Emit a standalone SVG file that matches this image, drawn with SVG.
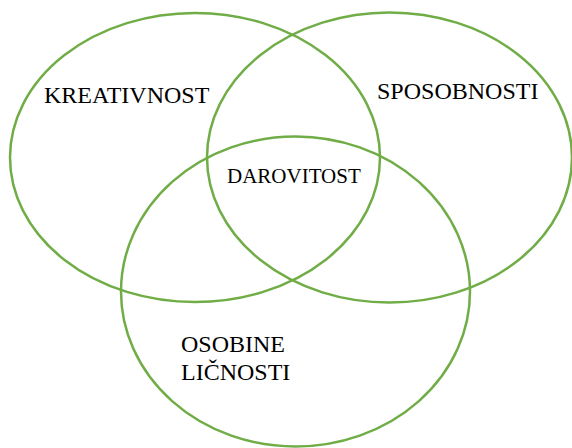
<svg xmlns="http://www.w3.org/2000/svg" width="572" height="448" viewBox="0 0 572 448">
<style>
.c{fill:none;stroke:#70AD47;stroke-width:2.5}
.t{font-family:"Times New Roman","Liberation Serif",Tinos,serif;font-size:24px;fill:#000}
.s{font-size:21px}
</style>
<rect width="572" height="448" fill="#fff"/>
<g id="kreativnost"><ellipse class="c" cx="195" cy="157.5" rx="185" ry="144.5"/><text class="t" x="44" y="103">KREATIVNOST</text></g>
<g id="sposobnosti"><ellipse class="c" cx="389.5" cy="157.5" rx="182.5" ry="145"/><text class="t" x="377" y="99">SPOSOBNOSTI</text></g>
<g id="osobine"><ellipse class="c" cx="295.5" cy="291.5" rx="174.5" ry="155"/><text class="t" x="181" y="352">OSOBINE</text><text class="t" x="181" y="380">LIČNOSTI</text></g>
<g id="darovitost"><text class="t s" x="227" y="183">DAROVITOST</text></g>
</svg>
